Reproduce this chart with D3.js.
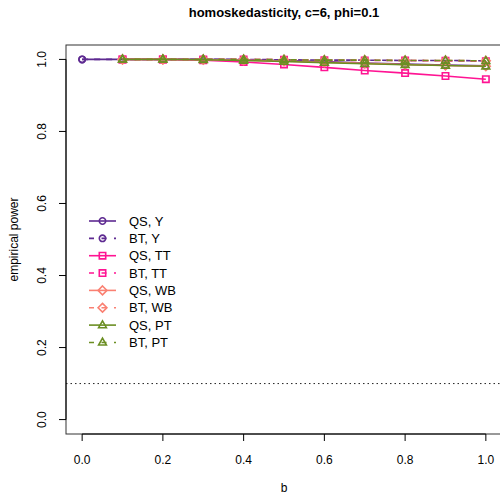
<!DOCTYPE html>
<html>
<head>
<meta charset="utf-8">
<script src="https://cdn.jsdelivr.net/npm/d3@7"></script>
<style>
  body { margin: 0; background: #fff; }
  text { font-family: "Liberation Sans", Arial, sans-serif; }
</style>
</head>
<body>
<svg width="500" height="500"></svg>
<script>
// b values and empirical power per series
var bVals = [0, 0.1, 0.2, 0.3, 0.4, 0.5, 0.6, 0.7, 0.8, 0.9, 1.0];
var qsY  = [1, 1, 1, 1, 0.999, 0.997, 0.994, 0.990, 0.987, 0.984, 0.982];
var btY  = [1, 1, 1, 1, 1, 0.999, 0.998, 0.998, 0.997, 0.997, 0.996];
var qsTT = [null, 1, 1, 0.998, 0.993, 0.986, 0.978, 0.969, 0.962, 0.954, 0.945];
var btTT = [null, 1, 1, 1, 1, 0.999, 0.998, 0.997, 0.997, 0.996, 0.995];
var qsWB = [null, 1, 1, 0.999, 0.998, 0.995, 0.992, 0.989, 0.986, 0.983, 0.981];
var btWB = [null, 1, 1, 1, 1, 0.999, 0.998, 0.998, 0.997, 0.997, 0.996];
var qsPT = [null, 1, 1, 0.999, 0.997, 0.994, 0.991, 0.988, 0.985, 0.983, 0.981];
var btPT = [null, 1, 1, 1, 1, 0.999, 0.998, 0.998, 0.997, 0.997, 0.996];
var seriesNames = ["QS, Y", "BT, Y", "QS, TT", "BT, TT", "QS, WB", "BT, WB", "QS, PT", "BT, PT"];
var xTicks = [0, 0.2, 0.4, 0.6, 0.8, 1.0];
var yTicks = [0, 0.2, 0.4, 0.6, 0.8, 1.0];
var alphaLevel = 0.1;

var series = [
  { name: seriesNames[0], vals: qsY,  color: "#5e2a91", shape: "circle",   dashed: false },
  { name: seriesNames[1], vals: btY,  color: "#5e2a91", shape: "circle",   dashed: true },
  { name: seriesNames[2], vals: qsTT, color: "#ff1493", shape: "square",   dashed: false },
  { name: seriesNames[3], vals: btTT, color: "#ff1493", shape: "square",   dashed: true },
  { name: seriesNames[4], vals: qsWB, color: "#fa8072", shape: "diamond",  dashed: false },
  { name: seriesNames[5], vals: btWB, color: "#fa8072", shape: "diamond",  dashed: true },
  { name: seriesNames[6], vals: qsPT, color: "#6b8e23", shape: "triangle", dashed: false },
  { name: seriesNames[7], vals: btPT, color: "#6b8e23", shape: "triangle", dashed: true }
];

var svg = d3.select("svg");
var mLeft = 66, mRight = 502, mTop = 45, mBottom = 434;

// R style: 4% padding on both ends
var x = d3.scaleLinear().domain([-0.04, 1.04]).range([mLeft, mRight]);
var y = d3.scaleLinear().domain([-0.04, 1.04]).range([mBottom, mTop]);

svg.append("defs").append("clipPath").attr("id", "plotclip")
  .append("rect").attr("x", mLeft).attr("y", mTop).attr("width", mRight - mLeft).attr("height", mBottom - mTop);

function symbolPath(shape) {
  if (shape === "circle") return d3.symbol(d3.symbolCircle, 32)();
  if (shape === "square") return "M-3.2,-3.2H3.2V3.2H-3.2Z";
  if (shape === "diamond") return "M0,-4.4L4.4,0L0,4.4L-4.4,0Z";
  return "M0,-4.3L3.9,2.6L-3.9,2.6Z";
}

// reference line at nominal level
svg.append("line")
  .attr("x1", mLeft).attr("x2", mRight)
  .attr("y1", y(alphaLevel)).attr("y2", y(alphaLevel))
  .attr("stroke", "#222").attr("stroke-width", 1).attr("stroke-dasharray", "1.5,3");

var line = d3.line()
  .defined(function(d) { return d[1] != null; })
  .x(function(d) { return x(d[0]); })
  .y(function(d) { return y(d[1]); });

var plot = svg.append("g").attr("clip-path", "url(#plotclip)");

series.forEach(function(s) {
  var pts = bVals.map(function(b, i) { return [b, s.vals[i]]; });
  plot.append("path")
    .attr("d", line(pts))
    .attr("fill", "none")
    .attr("stroke", s.color)
    .attr("stroke-width", 1.6)
    .attr("stroke-dasharray", s.dashed ? "6,6" : null);
  plot.selectAll(null)
    .data(pts.filter(function(d) { return d[1] != null; }))
    .enter().append("path")
      .attr("d", symbolPath(s.shape))
      .attr("transform", function(d) { return "translate(" + x(d[0]) + "," + y(d[1]) + ")"; })
      .attr("fill", "none")
      .attr("stroke", s.color)
      .attr("stroke-width", 1.6);
});

// box
svg.append("rect")
  .attr("x", mLeft).attr("y", mTop)
  .attr("width", mRight - mLeft).attr("height", mBottom - mTop)
  .attr("fill", "none").attr("stroke", "#333").attr("stroke-width", 1);

// x axis
var xAxis = svg.append("g");
xAxis.append("line").attr("x1", x(0)).attr("x2", x(1)).attr("y1", mBottom).attr("y2", mBottom).attr("stroke", "#000");
xAxis.selectAll("line.tick").data(xTicks).enter().append("line")
  .attr("x1", function(d) { return x(d); }).attr("x2", function(d) { return x(d); })
  .attr("y1", mBottom).attr("y2", mBottom + 7).attr("stroke", "#000");
xAxis.selectAll("text").data(xTicks).enter().append("text")
  .attr("x", function(d) { return x(d); }).attr("y", mBottom + 30)
  .attr("text-anchor", "middle").attr("font-size", 12)
  .text(function(d) { return d3.format(".1f")(d); });

// y axis
var yAxis = svg.append("g");
yAxis.append("line").attr("x1", mLeft).attr("x2", mLeft).attr("y1", y(0)).attr("y2", y(1)).attr("stroke", "#000");
yAxis.selectAll("line.tick").data(yTicks).enter().append("line")
  .attr("x1", mLeft - 7).attr("x2", mLeft)
  .attr("y1", function(d) { return y(d); }).attr("y2", function(d) { return y(d); }).attr("stroke", "#000");
yAxis.selectAll("text").data(yTicks).enter().append("text")
  .attr("transform", function(d) { return "translate(" + (mLeft - 20) + "," + y(d) + ") rotate(-90)"; })
  .attr("text-anchor", "middle").attr("font-size", 12)
  .text(function(d) { return d3.format(".1f")(d); });

// titles
svg.append("text").attr("x", (mLeft + mRight) / 2).attr("y", 17)
  .attr("text-anchor", "middle").attr("font-size", 13).attr("font-weight", "bold")
  .text("homoskedasticity, c=6, phi=0.1");
svg.append("text").attr("x", (mLeft + mRight) / 2).attr("y", 492)
  .attr("text-anchor", "middle").attr("font-size", 12).text("b");
svg.append("text").attr("transform", "translate(18," + ((mTop + mBottom) / 2) + ") rotate(-90)")
  .attr("text-anchor", "middle").attr("font-size", 12).text("empirical power");

// legend
var legend = svg.append("g").attr("transform", "translate(89,221)");
var rows = legend.selectAll("g").data(series).enter().append("g")
  .attr("transform", function(d, i) { return "translate(0," + (i * 17.35) + ")"; });
rows.append("line")
  .attr("x1", 0).attr("x2", 27).attr("y1", 0).attr("y2", 0)
  .attr("stroke", function(d) { return d.color; }).attr("stroke-width", 1.6)
  .attr("stroke-dasharray", function(d) { return d.dashed ? "5,7.5" : null; });
rows.append("path")
  .attr("d", function(d) { return symbolPath(d.shape); })
  .attr("transform", "translate(13.5,0)")
  .attr("fill", "none").attr("stroke", function(d) { return d.color; }).attr("stroke-width", 1.6);
rows.append("text").attr("x", 40).attr("y", 4.5).attr("font-size", 13)
  .text(function(d) { return d.name; });
</script>
</body>
</html>
